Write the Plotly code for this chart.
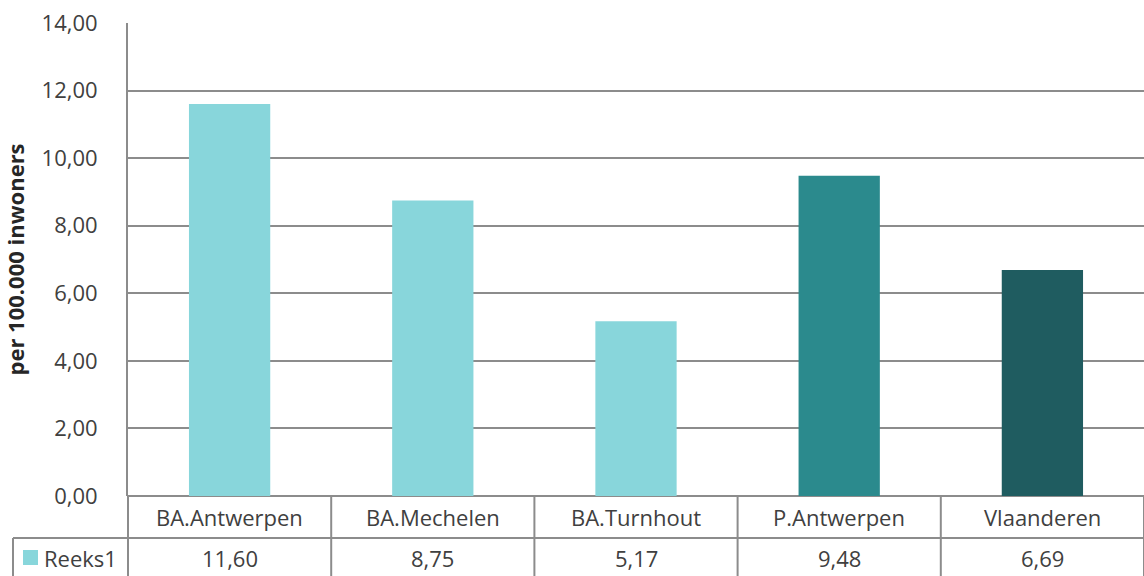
import plotly.graph_objects as go

categories = ["BA.Antwerpen", "BA.Mechelen", "BA.Turnhout", "P.Antwerpen", "Vlaanderen"]
values = [11.60, 8.75, 5.17, 9.48, 6.69]
bar_colors = ["#88D6DB", "#88D6DB", "#88D6DB", "#2B8A8D", "#1F5C60"]
series_name = "Reeks1"
y_ticks = [0, 2, 4, 6, 8, 10, 12, 14]

FONT = "Open Sans, Noto Sans, sans-serif"
TXT = "#404040"
LINE = "#8c8c8c"
PLOT_H = 473  # px height of the plot area
PLOT_W = 1016


def fmt(v):
    return f"{v:.2f}".replace(".", ",")


fig = go.Figure()
fig.add_trace(
    go.Bar(
        x=list(range(len(categories))),
        y=values,
        marker=dict(color=bar_colors, line=dict(width=0)),
        width=0.4,
        name=series_name,
        hoverinfo="y",
    )
)

# data table under the chart
shapes = []
annotations = []
row1 = -42 / PLOT_H
row2 = -85 / PLOT_H
cell_font = dict(size=22, color=TXT, family=FONT)
for i, (cat, val) in enumerate(zip(categories, values)):
    annotations.append(dict(x=i, y=0, xref="x", yref="paper", text=cat, showarrow=False,
                            yanchor="middle", yshift=-21, font=cell_font))
    annotations.append(dict(x=i, y=0, xref="x", yref="paper", text=fmt(val), showarrow=False,
                            yanchor="middle", yshift=-62, font=cell_font))
    shapes.append(dict(type="line", xref="x", yref="paper", x0=i + 0.5, x1=i + 0.5, y0=0, y1=row2,
                       line=dict(color=LINE, width=2)))

left_edge = -115 / PLOT_W
shapes.append(dict(type="line", xref="paper", yref="paper", x0=left_edge, x1=1.2, y0=row1, y1=row1,
                   line=dict(color=LINE, width=2)))
shapes.append(dict(type="line", xref="paper", yref="paper", x0=0, x1=0, y0=0, y1=row2,
                   line=dict(color=LINE, width=2)))
shapes.append(dict(type="line", xref="paper", yref="paper", x0=left_edge, x1=left_edge, y0=row1, y1=row2,
                   line=dict(color=LINE, width=2)))
# legend key
shapes.append(dict(type="rect", xref="paper", yref="paper", x0=-105 / PLOT_W, x1=-90 / PLOT_W,
                   y0=-54 / PLOT_H, y1=-69 / PLOT_H, fillcolor=bar_colors[0], line=dict(width=0)))
annotations.append(dict(x=-86 / PLOT_W, y=0, xref="paper", yref="paper", text=series_name, showarrow=False,
                        xanchor="left", yanchor="middle", yshift=-62, font=cell_font))

fig.update_layout(
    width=1144,
    height=576,
    margin=dict(l=128, r=0, t=23, b=80),
    paper_bgcolor="white",
    plot_bgcolor="white",
    showlegend=False,
    font=dict(family=FONT, color=TXT),
    shapes=shapes,
    annotations=annotations,
)
fig.update_xaxes(
    range=[-0.5, len(categories) - 0.5],
    showticklabels=False,
    showgrid=False,
    zeroline=False,
    showline=False,
    ticks="",
)
fig.update_yaxes(
    range=[0, 14],
    tickvals=y_ticks,
    ticktext=[fmt(t) for t in y_ticks],
    tickfont=dict(size=22, color=TXT, family=FONT),
    ticklabelstandoff=24,
    showgrid=True,
    gridcolor=LINE,
    gridwidth=2,
    zeroline=True,
    zerolinecolor=LINE,
    zerolinewidth=2,
    showline=True,
    linecolor=LINE,
    linewidth=2,
    ticks="",
    title=dict(text="<b>per 100.000 inwoners</b>", font=dict(size=22, color="#262626", family=FONT), standoff=12),
)

fig.write_html(
    "out.html",
    config={"displayModeBar": False},
    post_script="document.body.style.margin='0';document.body.style.overflow='hidden';",
)
